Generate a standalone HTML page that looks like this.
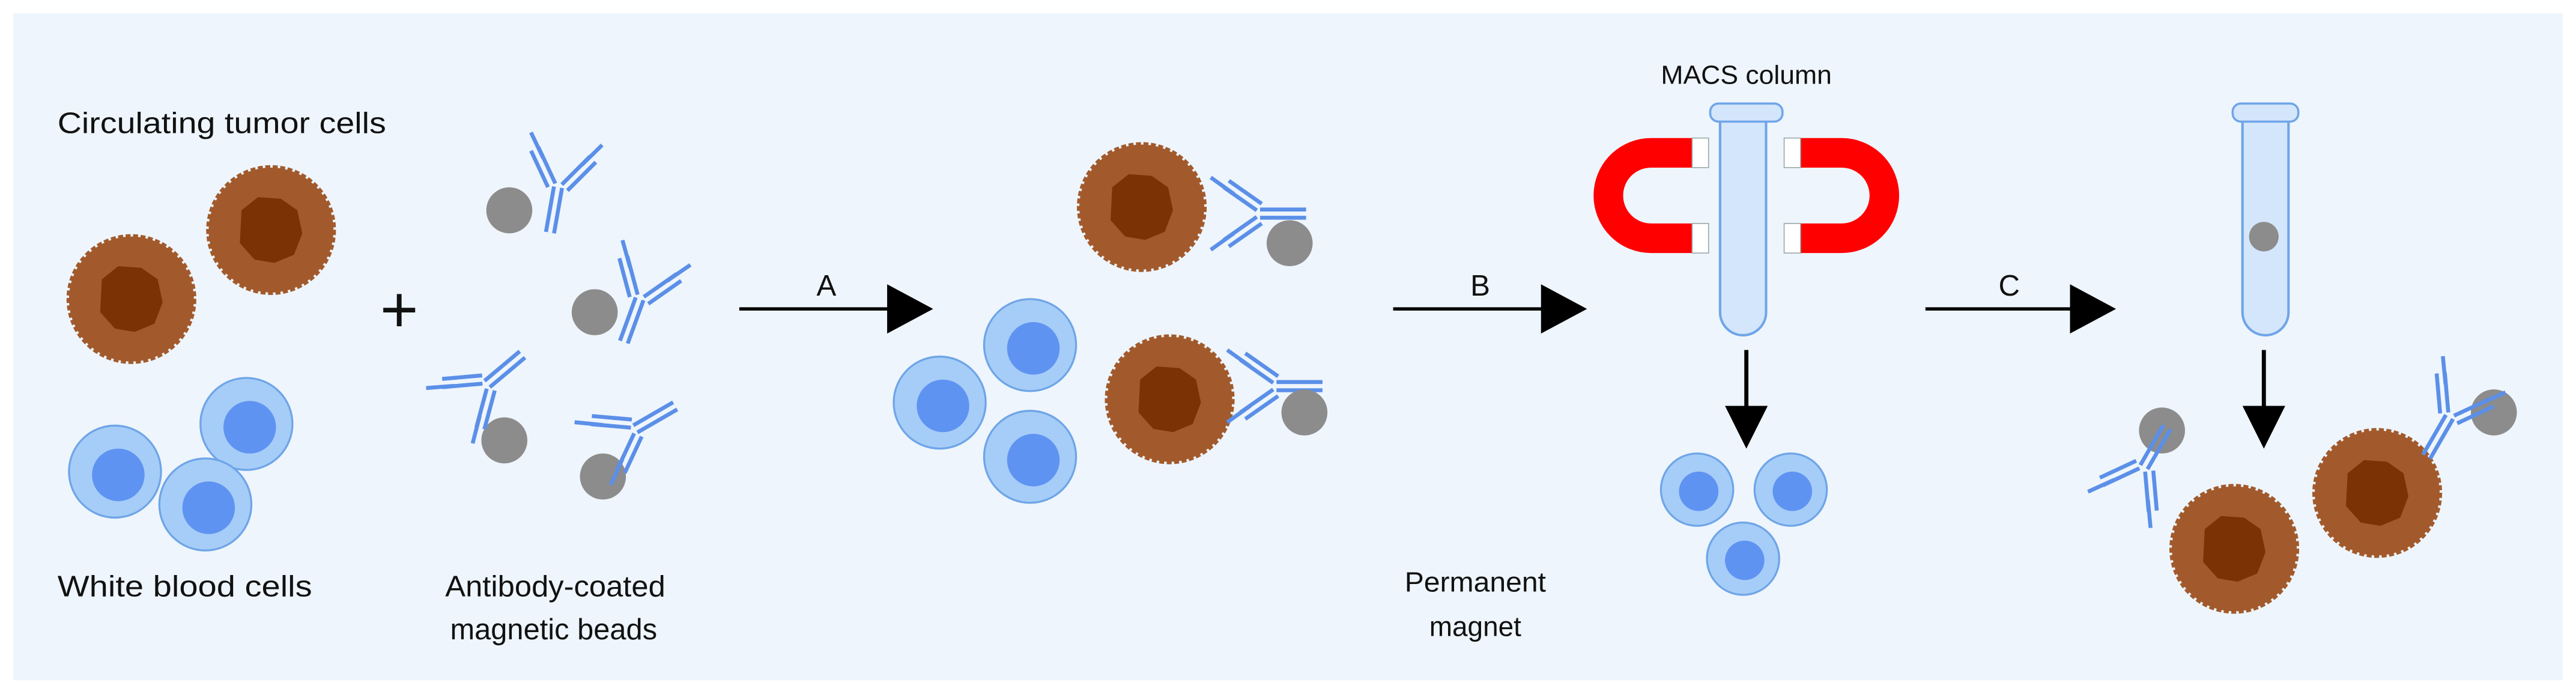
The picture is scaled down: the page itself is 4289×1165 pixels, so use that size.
<!DOCTYPE html>
<html><head><meta charset="utf-8"><style>
html,body{margin:0;padding:0;background:#fff;}
svg{display:block;}
text{font-family:"Liberation Sans",Arial,sans-serif;fill:#111;}
</style></head><body>
<svg width="4289" height="1165" viewBox="0 0 1568 426" preserveAspectRatio="none" xmlns="http://www.w3.org/2000/svg">
<defs>
<g id="ab" stroke="#5b8fe8" stroke-width="2.4" fill="none">
  <line x1="-2.5" y1="2" x2="-2.5" y2="30"/><line x1="2.5" y1="2" x2="2.5" y2="30"/>
  <line x1="-2" y1="0" x2="-16" y2="-20"/><line x1="-6" y1="3" x2="-20" y2="-17"/>
  <line x1="2" y1="0" x2="16" y2="-20"/><line x1="6" y1="3" x2="20" y2="-17"/>
  <line x1="-12" y1="-14" x2="-22" y2="-28"/><line x1="12" y1="-14" x2="22" y2="-28"/>
</g>
<g id="wbc"><circle r="28" fill="#a6cdf7" stroke="#6fa5e8" stroke-width="1.2"/><circle cx="2" cy="2" r="16" fill="#5f93f2"/></g>
<g id="wbcs"><circle r="22" fill="#a6cdf7" stroke="#6fa5e8" stroke-width="1.2"/><circle cx="1" cy="1" r="12" fill="#5f93f2"/></g>
<g id="tc">
  <circle r="38" fill="#a25a2c" stroke="#a25a2c" stroke-width="3" stroke-dasharray="3 1.5"/>
  <path d="M-18,-12 L-8,-20 L6,-19 L16,-12 L19,2 L14,15 L2,20 L-10,18 L-19,8 Z" fill="#7b3306"/>
</g>
<path id="tube" d="M2,10 V128 A14,14 0 0 0 30,128 V10 Z" fill="#d4e6fb" stroke="#6fa5e8" stroke-width="1.5"/>
</defs>
<rect x="0" y="0" width="1568" height="426" fill="#fff"/>
<rect x="8" y="8" width="1552" height="406" fill="#eef5fc"/>

<text x="35" y="81" font-size="18" textLength="200" lengthAdjust="spacingAndGlyphs">Circulating tumor cells</text>
<text x="35" y="363" font-size="18" textLength="155" lengthAdjust="spacingAndGlyphs">White blood cells</text>
<text x="271" y="363" font-size="18" textLength="134" lengthAdjust="spacingAndGlyphs">Antibody-coated</text>
<text x="274" y="389" font-size="18" textLength="126" lengthAdjust="spacingAndGlyphs">magnetic beads</text>
<text x="855" y="360" font-size="17" textLength="86" lengthAdjust="spacingAndGlyphs">Permanent</text>
<text x="870" y="387" font-size="17" textLength="56" lengthAdjust="spacingAndGlyphs">magnet</text>
<text x="1011" y="51" font-size="16" textLength="104" lengthAdjust="spacingAndGlyphs">MACS column</text>

<!-- left group -->
<use href="#tc" x="80" y="182"/>
<use href="#tc" x="165" y="140"/>
<use href="#wbc" x="70" y="287"/>
<use href="#wbc" x="150" y="258"/>
<use href="#wbc" x="125" y="307"/>
<text x="243" y="202" font-size="40" text-anchor="middle">+</text>

<circle cx="310" cy="128" r="14" fill="#8c8c8c"/>
<use href="#ab" transform="translate(340,112) rotate(10)"/>
<circle cx="362" cy="190" r="14" fill="#8c8c8c"/>
<use href="#ab" transform="translate(390,180) rotate(20)"/>
<circle cx="307" cy="268" r="14" fill="#8c8c8c"/>
<use href="#ab" transform="translate(295,235) rotate(-130)"/>
<circle cx="367" cy="290" r="14" fill="#8c8c8c"/>
<use href="#ab" transform="translate(385,262) rotate(-120)"/>

<!-- Arrow A -->
<line x1="450" y1="188" x2="542" y2="188" stroke="#000" stroke-width="2"/>
<polygon points="540,173 568,188 540,203" fill="#000"/>
<text x="503" y="180" font-size="18" text-anchor="middle">A</text>

<!-- middle -->
<use href="#wbc" x="572" y="245"/>
<use href="#wbc" x="627" y="210"/>
<use href="#wbc" x="627" y="278"/>
<use href="#tc" x="695" y="126"/>
<use href="#tc" x="712" y="243"/>
<use href="#ab" transform="translate(765,130) rotate(-90)"/>
<circle cx="785" cy="148" r="14" fill="#8c8c8c"/>
<use href="#ab" transform="translate(775,235) rotate(-90)"/>
<circle cx="794" cy="251" r="14" fill="#8c8c8c"/>

<!-- Arrow B -->
<line x1="848" y1="188" x2="940" y2="188" stroke="#000" stroke-width="2"/>
<polygon points="938,173 966,188 938,203" fill="#000"/>
<text x="901" y="180" font-size="18" text-anchor="middle">B</text>

<!-- magnets -->
<path d="M1032,93 H1005 A26,26 0 0 0 1005,145 H1032" fill="none" stroke="#f00" stroke-width="18"/>
<rect x="1030" y="84" width="10" height="18" fill="#fff" stroke="#9aa" stroke-width="0.6"/>
<rect x="1030" y="136" width="10" height="18" fill="#fff" stroke="#9aa" stroke-width="0.6"/>
<path d="M1094,93 H1121 A26,26 0 0 1 1121,145 H1094" fill="none" stroke="#f00" stroke-width="18"/>
<rect x="1086" y="84" width="10" height="18" fill="#fff" stroke="#9aa" stroke-width="0.6"/>
<rect x="1086" y="136" width="10" height="18" fill="#fff" stroke="#9aa" stroke-width="0.6"/>
<use href="#tube" x="1045" y="62"/>
<rect x="1041" y="63" width="44" height="11" rx="5" fill="#d4e6fb" stroke="#6fa5e8" stroke-width="1.3"/>
<line x1="1063" y1="213" x2="1063" y2="250" stroke="#000" stroke-width="2.5"/>
<polygon points="1050,247 1076,247 1063,273" fill="#000"/>
<use href="#wbcs" x="1033" y="298"/>
<use href="#wbcs" x="1090" y="298"/>
<use href="#wbcs" x="1061" y="340"/>

<!-- Arrow C -->
<line x1="1172" y1="188" x2="1262" y2="188" stroke="#000" stroke-width="2"/>
<polygon points="1260,173 1288,188 1260,203" fill="#000"/>
<text x="1223" y="180" font-size="18" text-anchor="middle">C</text>

<!-- right -->
<use href="#tube" x="1363" y="62"/>
<rect x="1359" y="63" width="40" height="11" rx="5" fill="#d4e6fb" stroke="#6fa5e8" stroke-width="1.3"/>
<circle cx="1378" cy="144" r="9" fill="#8c8c8c"/>
<line x1="1378" y1="213" x2="1378" y2="250" stroke="#000" stroke-width="2.5"/>
<polygon points="1365,247 1391,247 1378,273" fill="#000"/>
<circle cx="1316" cy="262" r="14" fill="#8c8c8c"/>
<use href="#ab" transform="translate(1304,286) rotate(-150)"/>
<use href="#tc" x="1360" y="334"/>
<use href="#tc" x="1447" y="300"/>
<circle cx="1518" cy="251" r="14" fill="#8c8c8c"/>
<use href="#ab" transform="translate(1492,252) rotate(30)"/>
</svg>
</body></html>
